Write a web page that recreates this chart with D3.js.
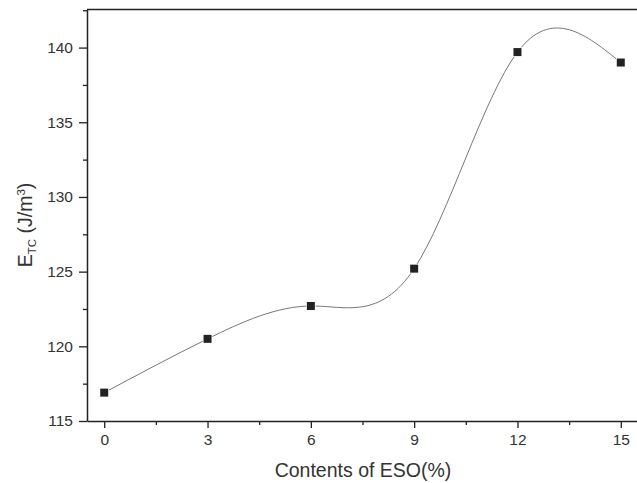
<!DOCTYPE html>
<html>
<head>
<meta charset="utf-8">
<script src="https://cdn.jsdelivr.net/npm/d3@7"></script>
<style>
  body { margin: 0; background: #fff; }
  svg { display: block; font-family: "Liberation Sans", Arial, sans-serif; }
</style>
</head>
<body>
<div id="chart"></div>
<script>
var contents = [0, 3, 6, 9, 12, 15];
var etc = [116.9, 120.5, 122.7, 125.2, 139.7, 139.0];
var xTicks = [0, 3, 6, 9, 12, 15];
var yTicks = [115, 120, 125, 130, 135, 140];

var W = 637, H = 483;
var margin = {top: 9.5, right: 0, bottom: 62, left: 87};
var width = W - margin.left - margin.right,
    height = H - margin.top - margin.bottom;

var xScale = d3.scaleLinear().domain([-0.5, 15.5]).range([0, 551]);
var yScale = d3.scaleLinear().domain([115, 142.55]).range([height, 0]);

var svg = d3.select("#chart").append("svg")
    .attr("width", W)
    .attr("height", H)
    .append("g")
    .attr("transform", "translate(" + margin.left + "," + margin.top + ")");

// smooth connecting curve
var data = contents.map(function(d, i) { return {x: d, y: etc[i]}; });
var line = d3.line()
    .x(d => xScale(d.x))
    .y(d => yScale(d.y))
    .curve(d3.curveNatural);

svg.append("path")
    .datum(data)
    .attr("d", line)
    .attr("fill", "none")
    .attr("stroke", "#777")
    .attr("stroke-width", 1);

// markers
svg.append("g")
    .selectAll("rect")
    .data(data)
    .join("rect")
    .attr("x", d => xScale(d.x) - 4)
    .attr("y", d => yScale(d.y) - 4)
    .attr("width", 8)
    .attr("height", 8)
    .attr("fill", "#222")
    .attr("stroke", "#fff")
    .attr("stroke-width", 1.5)
    .attr("paint-order", "stroke");

// minor ticks
var xMinor = xTicks.slice(0, -1).map(d => d + 1.5);
var yMinor = yTicks.map(d => d + 2.5);

svg.append("g")
    .attr("transform", "translate(0," + height + ")")
    .call(d3.axisBottom(xScale).tickValues(xMinor).tickSize(4).tickFormat(""))
    .call(g => g.select(".domain").remove())
    .selectAll("line").attr("stroke", "#222").attr("stroke-width", 1.3);

svg.append("g")
    .call(d3.axisLeft(yScale).tickValues(yMinor).tickSize(4).tickFormat(""))
    .call(g => g.select(".domain").remove())
    .selectAll("line").attr("stroke", "#222").attr("stroke-width", 1.3);

// major axes
var xAxis = svg.append("g")
    .attr("transform", "translate(0," + height + ")")
    .call(d3.axisBottom(xScale).tickValues(xTicks).tickSize(7).tickPadding(6).tickSizeOuter(0));

var yAxis = svg.append("g")
    .call(d3.axisLeft(yScale).tickValues(yTicks).tickSize(8).tickPadding(6).tickSizeOuter(0));

[xAxis, yAxis].forEach(function(a) {
    a.select(".domain").attr("stroke", "#222").attr("stroke-width", 1.5);
    a.selectAll(".tick line").attr("stroke", "#222").attr("stroke-width", 1.3);
    a.selectAll("text")
        .attr("font-family", "Liberation Sans, Arial, sans-serif")
        .attr("font-size", 15.5)
        .attr("fill", "#333");
});

// top frame line
svg.append("line")
    .attr("x1", 0).attr("x2", width)
    .attr("y1", 0).attr("y2", 0)
    .attr("stroke", "#222")
    .attr("stroke-width", 1.5);

// axis labels
svg.append("text")
    .attr("x", 363 - margin.left)
    .attr("y", 477 - margin.top)
    .attr("text-anchor", "middle")
    .attr("font-size", 19.5)
    .attr("fill", "#333")
    .text("Contents of ESO(%)");

var yl = svg.append("text")
    .attr("transform", "translate(-55," + (225 - margin.top) + ") rotate(-90)")
    .attr("text-anchor", "middle")
    .attr("font-size", 19.5)
    .attr("fill", "#333");
yl.append("tspan").text("E");
yl.append("tspan").attr("font-size", 11.5).attr("dy", 4).text("TC");
yl.append("tspan").attr("dy", -4).text(" (J/m");
yl.append("tspan").attr("font-size", 11.5).attr("dy", -7).text("3");
yl.append("tspan").attr("dy", 7).text(")");
</script>
</body>
</html>
